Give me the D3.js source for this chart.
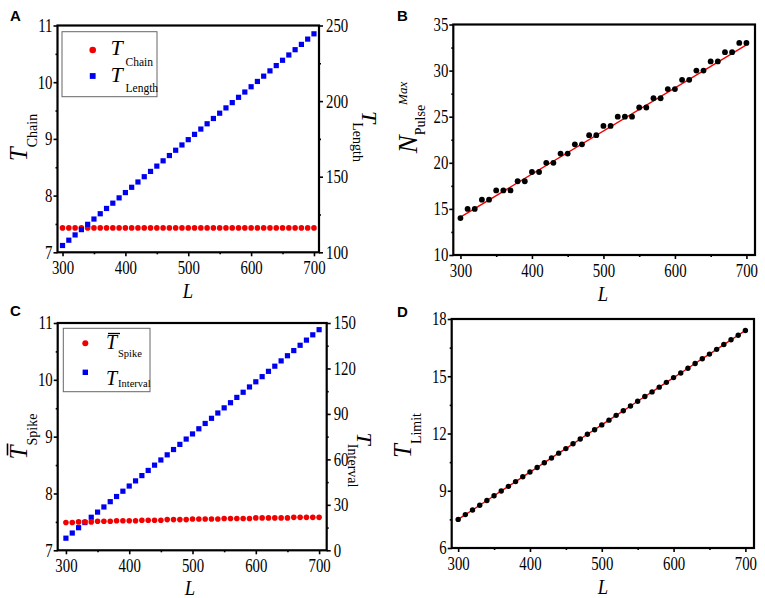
<!DOCTYPE html>
<html><head><meta charset="utf-8">
<script src="https://cdn.jsdelivr.net/npm/d3@7"></script>
<style>body{margin:0;background:#fff} svg{display:block}</style>
</head><body>
<svg id="c" width="765" height="598"></svg>
<script>
const L = [300,310,320,330,340,350,360,370,380,390,400,410,420,430,440,450,460,470,480,490,500,510,520,530,540,550,560,570,580,590,600,610,620,630,640,650,660,670,680,690,700];
const tChain = [7.43,7.43,7.43,7.43,7.43,7.43,7.43,7.43,7.43,7.43,7.43,7.43,7.43,7.43,7.43,7.43,7.43,7.43,7.43,7.43,7.43,7.43,7.43,7.43,7.43,7.43,7.43,7.43,7.43,7.43,7.43,7.43,7.43,7.43,7.43,7.43,7.43,7.43,7.43,7.43,7.43];
const tLength = [104.5,108,111.5,115,118.5,122,125.5,129,132.5,136,139.5,143,146.5,150,153.5,157,160.5,164,167.5,171,174.5,178,181.5,185,188.5,192,195.5,199,202.5,206,209.5,213,216.5,220,223.5,227,230.5,234,237.5,241,244.5];
const nPulse = [14,15,15,16,16,17,17,17,18,18,19,19,20,20,21,21,22,22,23,23,24,24,25,25,25,26,26,27,27,28,28,29,29,30,30,31,31,32,32,33,33];
const fitL = [300,700];
const fitN = [14.1,32.8];
const tSpike = [7.49,7.49,7.50,7.50,7.50,7.51,7.51,7.51,7.52,7.52,7.52,7.52,7.53,7.53,7.53,7.53,7.54,7.54,7.54,7.54,7.55,7.55,7.55,7.55,7.55,7.56,7.56,7.56,7.56,7.56,7.57,7.57,7.57,7.57,7.57,7.57,7.58,7.58,7.58,7.58,7.58];
const tInterval = [8.0,11.4,14.9,18.3,21.8,25.2,28.6,32.1,35.5,39.0,42.4,45.8,49.3,52.7,56.2,59.6,63.0,66.5,69.9,73.4,76.8,80.2,83.7,87.1,90.6,94.0,97.4,100.9,104.3,107.8,111.2,114.6,118.1,121.5,125.0,128.4,131.8,135.3,138.7,142.2,145.6];
const tLimit = [7.50,7.75,7.99,8.24,8.49,8.74,8.99,9.23,9.48,9.73,9.98,10.22,10.47,10.72,10.97,11.21,11.46,11.71,11.96,12.20,12.45,12.70,12.95,13.19,13.44,13.69,13.94,14.18,14.43,14.68,14.93,15.17,15.42,15.67,15.92,16.16,16.41,16.66,16.91,17.15,17.40];

const xTicks = [300,400,500,600,700];
const xMinor = [350,450,550,650];
const aLeftTicks = [7,8,9,10,11];
const aLeftMinor = [7.5,8.5,9.5,10.5];
const aRightTicks = [100,150,200,250];
const aRightMinor = [125,175,225];
const bTicks = [10,15,20,25,30,35];
const bMinor = [12.5,17.5,22.5,27.5,32.5];
const cRightTicks = [0,30,60,90,120,150];
const cRightMinor = [15,45,75,105,135];
const dTicks = [6,9,12,15,18];
const dMinor = [7.5,10.5,13.5,16.5];

const RED = "#f20000", BLUE = "#0000f0";
const SERIF = "'Liberation Serif','Times New Roman',serif";
const SANS = "'Liberation Sans',Arial,sans-serif";
const SX = 0.8, TFS = 18.5;
const svg = d3.select("#c");

function axis(g, kind, scale, tx, ty, major, minor) {
  const fn = kind === "bottom" ? d3.axisBottom : kind === "left" ? d3.axisLeft : d3.axisRight;
  const a = g.append("g").attr("transform", `translate(${tx},${ty})`)
    .call(fn(scale).tickValues(major).tickSize(4).tickSizeOuter(0).tickPadding(5).tickFormat(d3.format("d")));
  a.select(".domain").remove();
  a.selectAll("line").attr("stroke", "#000").attr("stroke-width", 1.6);
  const t = a.selectAll("text").attr("font-family", SERIF).attr("font-size", TFS).attr("fill", "#000")
    .attr("transform", `scale(${SX},1)`);
  if (kind === "left") t.attr("x", -5 / SX);
  if (kind === "right") t.attr("x", 7 / SX);
  const m = g.append("g").attr("transform", `translate(${tx},${ty})`)
    .call(fn(scale).tickValues(minor).tickSize(2).tickSizeOuter(0).tickFormat(""));
  m.select(".domain").remove();
  m.selectAll("line").attr("stroke", "#000").attr("stroke-width", 1.6);
}

function frame(g, o) {
  g.append("rect").attr("x", o.x0).attr("y", o.y0).attr("width", o.x1 - o.x0).attr("height", o.y1 - o.y0)
    .attr("fill", "none").attr("stroke", "#000").attr("stroke-width", 2.2);
}

function circles(g, x, y, xs, ys, r, color) {
  g.append("g").selectAll("circle").data(xs).join("circle")
    .attr("cx", d => x(d)).attr("cy", (d, i) => y(ys[i])).attr("r", r).attr("fill", color);
}
function squares(g, x, y, xs, ys, s, color) {
  g.append("g").selectAll("rect").data(xs).join("rect")
    .attr("x", d => x(d) - s / 2).attr("y", (d, i) => y(ys[i]) - s / 2)
    .attr("width", s).attr("height", s).attr("fill", color);
}

function rlabel(cx, cy, rot, parts, overline) {
  const g = svg.append("g").attr("transform", `translate(${cx},${cy}) rotate(${rot})`);
  let pos = 0; const els = [];
  parts.forEach(p => {
    const t = g.append("text").attr("x", pos).attr("y", p.dy || 0)
      .attr("font-family", SERIF).attr("font-size", p.size)
      .attr("font-style", p.italic ? "italic" : "normal").text(p.text);
    const w = t.node().getComputedTextLength();
    els.push({t, start: pos, w});
    pos = pos + w + (p.gap || 0);
  });
  const total = d3.max(els, e => e.start + e.w);
  els.forEach(e => e.t.attr("x", e.start - total / 2));
  if (overline) {
    const e = els[0];
    g.append("line").attr("x1", e.start - total / 2 + 4).attr("x2", e.start - total / 2 + e.w + 2)
      .attr("y1", overline).attr("y2", overline).attr("stroke", "#000").attr("stroke-width", 1.6);
  }
}

function xlabel(cx, axisY) {
  svg.append("text").attr("transform", `translate(${cx},${axisY + 45.5}) scale(0.85,1)`)
    .attr("text-anchor", "middle").attr("font-family", SERIF).attr("font-size", 22)
    .attr("font-style", "italic").text("L");
}
function letter(x, y, s) {
  svg.append("text").attr("x", x).attr("y", y).attr("font-family", SANS).attr("font-weight", "bold")
    .attr("font-size", 15).text(s);
}

// ---------- Panel A ----------
{
  const o = {x0: 57.5, x1: 319, y0: 25.5, y1: 252.3};
  const g = svg.append("g");
  const x = d3.scaleLinear().domain([292, 708]).range([o.x0, o.x1]);
  const y = d3.scaleLinear().domain([7, 11]).range([o.y1, o.y0]);
  const yr = d3.scaleLinear().domain([100, 250]).range([o.y1, o.y0]);
  circles(g, x, y, L, tChain, 2.8, RED);
  squares(g, x, yr, L, tLength, 5.2, BLUE);
  frame(g, o);
  axis(g, "bottom", x, 0, o.y1, xTicks, xMinor);
  axis(g, "left", y, o.x0, 0, aLeftTicks, aLeftMinor);
  axis(g, "right", yr, o.x1, 0, aRightTicks, aRightMinor);
  g.append("rect").attr("x", 62).attr("y", 31.7).attr("width", 95).attr("height", 65)
    .attr("fill", "#fff").attr("stroke", "#666").attr("stroke-width", 1);
  g.append("circle").attr("cx", 92.7).attr("cy", 50).attr("r", 3.3).attr("fill", RED);
  g.append("rect").attr("x", 92.7 - 2.9).attr("y", 76 - 2.9).attr("width", 5.8).attr("height", 5.8).attr("fill", BLUE);
  const lt = (xx, yy, s, size, it) => g.append("text").attr("x", xx).attr("y", yy).attr("font-family", SERIF)
    .attr("font-size", size).attr("font-style", it ? "italic" : "normal").text(s);
  lt(110.5, 55, "T", 22, true); lt(125.5, 66, "Chain", 11.5, false);
  lt(110.5, 81.5, "T", 22, true); lt(125.5, 92, "Length", 11.5, false);
  rlabel(27, 137.5, -90, [{text: "T", size: 25, italic: true, gap: 0}, {text: "Chain", size: 14, dy: 10}]);
  rlabel(361.7, 136.5, 90, [{text: "T", size: 22, italic: true, gap: -1}, {text: "Length", size: 14, dy: 8.7}]);
  xlabel(188, o.y1);
  letter(10, 21, "A");
}

// ---------- Panel B ----------
{
  const o = {x0: 453.3, x1: 755, y0: 24.5, y1: 255};
  const g = svg.append("g");
  const x = d3.scaleLinear().domain([290, 712]).range([o.x0, o.x1]);
  const y = d3.scaleLinear().domain([10, 35]).range([o.y1, o.y0]);
  g.append("path").datum(fitL).attr("fill", "none").attr("stroke", RED).attr("stroke-width", 1.4)
    .attr("d", d3.line().x(d => x(d)).y((d, i) => y(fitN[i])));
  circles(g, x, y, L, nPulse, 2.9, "#000");
  frame(g, o);
  axis(g, "bottom", x, 0, o.y1, xTicks, xMinor);
  axis(g, "left", y, o.x0, 0, bTicks, bMinor);
  rlabel(417, 117.5, -90, [{text: "N", size: 27, italic: true, gap: 0}, {text: "Pulse", size: 14, dy: 8, gap: 0},
    {text: "Max", size: 13, italic: true, dy: -10}]);
  xlabel(603, o.y1);
  letter(397, 21, "B");
}

// ---------- Panel C ----------
{
  const o = {x0: 57.7, x1: 326.7, y0: 323, y1: 550.3};
  const g = svg.append("g");
  const x = d3.scaleLinear().domain([287, 712]).range([o.x0, o.x1]);
  const y = d3.scaleLinear().domain([7, 11]).range([o.y1, o.y0]);
  const yr = d3.scaleLinear().domain([0, 150]).range([o.y1, o.y0]);
  squares(g, x, yr, L, tInterval, 5.2, BLUE);
  circles(g, x, y, L, tSpike, 2.8, RED);
  frame(g, o);
  axis(g, "bottom", x, 0, o.y1, xTicks, xMinor);
  axis(g, "left", y, o.x0, 0, aLeftTicks, aLeftMinor);
  axis(g, "right", yr, o.x1, 0, cRightTicks, cRightMinor);
  g.append("rect").attr("x", 63.3).attr("y", 328.3).attr("width", 86.7).attr("height", 63.4)
    .attr("fill", "#fff").attr("stroke", "#666").attr("stroke-width", 1);
  g.append("circle").attr("cx", 85.3).attr("cy", 343.3).attr("r", 3).attr("fill", RED);
  g.append("rect").attr("x", 85.3 - 2.7).attr("y", 372.3 - 2.7).attr("width", 5.4).attr("height", 5.4).attr("fill", BLUE);
  const lt = (xx, yy, s, size, it) => g.append("text").attr("x", xx).attr("y", yy).attr("font-family", SERIF)
    .attr("font-size", size).attr("font-style", it ? "italic" : "normal").text(s);
  lt(106, 348.5, "T", 20, true); lt(118, 357, "Spike", 10.5, false);
  g.append("line").attr("x1", 108).attr("x2", 120).attr("y1", 333.5).attr("y2", 333.5).attr("stroke", "#000").attr("stroke-width", 1.3);
  lt(106, 385, "T", 20, true); lt(118, 386.5, "Interval", 10.5, false);
  rlabel(27, 436.5, -90, [{text: "T", size: 25, italic: true, gap: 0}, {text: "Spike", size: 14, dy: 10}], -19.5);
  rlabel(357, 460, 90, [{text: "T", size: 22, italic: true, gap: -1}, {text: "Interval", size: 14, dy: 8.7}]);
  xlabel(190, o.y1 - 1);
  letter(10, 316, "C");
}

// ---------- Panel D ----------
{
  const o = {x0: 451.7, x1: 754, y0: 319, y1: 548};
  const g = svg.append("g");
  const x = d3.scaleLinear().domain([291, 712]).range([o.x0, o.x1]);
  const y = d3.scaleLinear().domain([6, 18]).range([o.y1, o.y0]);
  g.append("path").datum(L).attr("fill", "none").attr("stroke", RED).attr("stroke-width", 1.4)
    .attr("d", d3.line().x(d => x(d)).y((d, i) => y(tLimit[i])));
  circles(g, x, y, L, tLimit, 2.7, "#000");
  frame(g, o);
  axis(g, "bottom", x, 0, o.y1, xTicks, xMinor);
  axis(g, "left", y, o.x0, 0, dTicks, dMinor);
  rlabel(411, 435.5, -90, [{text: "T", size: 25, italic: true, gap: 0}, {text: "Limit", size: 14, dy: 10}]);
  xlabel(603, o.y1);
  letter(397, 317, "D");
}
</script>
</body></html>
